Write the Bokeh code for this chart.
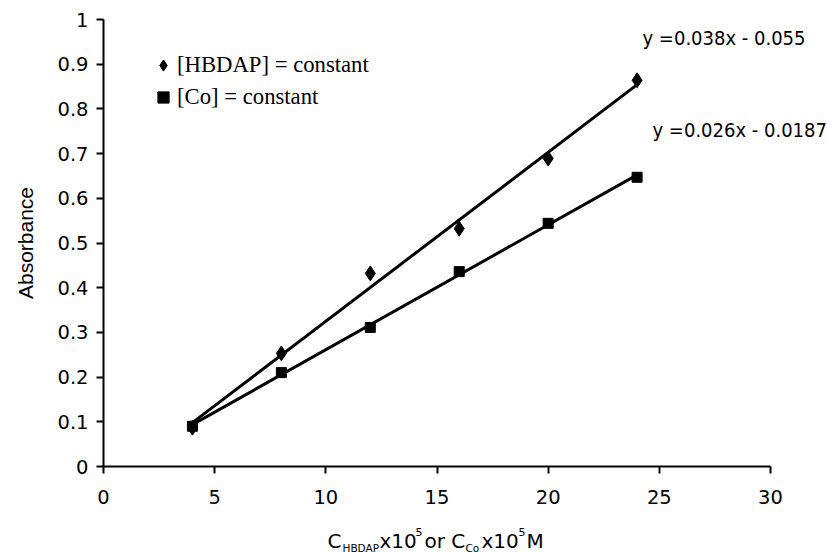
import numpy as np
from bokeh.plotting import figure
from bokeh.models import Range1d, FixedTicker, Legend, LegendItem, Label
from bokeh.embed import file_html
from bokeh.resources import INLINE

# ---- data ----
conc = [4, 8, 12, 16, 20, 24]
abs_hbdap = [0.087, 0.253, 0.432, 0.532, 0.689, 0.864]
abs_co = [0.090, 0.210, 0.311, 0.436, 0.544, 0.647]
series_names = ["[HBDAP] = constant", "[Co] = constant"]
eq_texts = ["y =0.038x - 0.055", "y =0.026x - 0.0187"]
x_ticks = [0, 5, 10, 15, 20, 25, 30]
x_tick_labels = ["0", "5", "10", "15", "20", "25", "30"]
y_ticks = [0, 0.1, 0.2, 0.3, 0.4, 0.5, 0.6, 0.7, 0.8, 0.9, 1]
y_tick_labels = ["0", "0.1", "0.2", "0.3", "0.4", "0.5", "0.6", "0.7", "0.8", "0.9", "1"]
y_label = "Absorbance"

# ---- layout: the frame spans the whole canvas, axes are pinned at the origin ----
W, H = 827, 552
AL, AR, AT, AB = 103, 770, 19, 466      # pixel positions of x=0, x=30, y=1, y=0
X0, X1, Y0, Y1 = 0, 30, 0, 1

def dx(px):
    return X0 + (px - AL) * (X1 - X0) / (AR - AL)

def dy(py):
    return Y0 + (AB - py) * (Y1 - Y0) / (AB - AT)

p = figure(width=W, height=H, x_range=Range1d(dx(0), dx(W)), y_range=Range1d(dy(H), dy(0)),
           output_backend="svg", toolbar_location=None,
           min_border_left=0, min_border_right=0, min_border_top=0, min_border_bottom=0)
p.outline_line_color = None
p.xgrid.visible = False
p.ygrid.visible = False
p.background_fill_color = "white"
p.border_fill_color = "white"

xa, ya = p.xaxis[0], p.yaxis[0]
xa.fixed_location = 0
ya.fixed_location = 0
xa.bounds = (X0, X1)
ya.bounds = (Y0, Y1)

for ax in (xa, ya):
    ax.axis_line_width = 2
    ax.axis_line_color = "black"
    ax.major_tick_line_width = 2
    ax.major_tick_line_color = "black"
    ax.major_tick_out = 7
    ax.major_tick_in = 0
    ax.minor_tick_out = 0
    ax.minor_tick_in = 0
    ax.major_label_text_font = "DejaVu Sans"
    ax.major_label_text_font_size = "19.5px"
    ax.major_label_text_color = "black"

xa.ticker = FixedTicker(ticks=x_ticks)
ya.ticker = FixedTicker(ticks=y_ticks)
xa.major_label_overrides = {t: l for t, l in zip(x_ticks, x_tick_labels)}
ya.major_label_overrides = {t: l for t, l in zip(y_ticks, y_tick_labels)}
xa.major_label_standoff = 16
ya.major_label_standoff = 8

ya.axis_label = y_label
ya.axis_label_text_font = "Liberation Sans"
ya.axis_label_text_font_size = "21px"
ya.axis_label_text_font_style = "normal"
ya.axis_label_text_color = "black"
ya.axis_label_standoff = 17

# ---- trend lines (least squares on the data) ----
for ys in (abs_hbdap, abs_co):
    m, b = np.polyfit(conc, ys, 1)
    xs = [conc[0], conc[-1]]
    p.line(xs, [m * x + b for x in xs], line_color="black", line_width=3)

r1 = p.scatter(conc, abs_hbdap, marker="diamond", size=15, color="black")
r2 = p.scatter(conc, abs_co, marker="square", size=10, color="black")

legend = Legend(items=[LegendItem(label=series_names[0], renderers=[r1]),
                       LegendItem(label=series_names[1], renderers=[r2])],
                location=(149, H - 111), orientation="vertical",
                border_line_color=None, background_fill_alpha=0,
                padding=0, margin=0, spacing=4,
                glyph_width=28, glyph_height=28, label_standoff=0,
                label_height=28,
                label_text_font="Liberation Serif", label_text_font_size="22.7px",
                label_text_color="black")
p.add_layout(legend)

# ---- regression equations ----
eq_pos = [(642, 37), (652, 129)]
for txt, (px, py) in zip(eq_texts, eq_pos):
    p.add_layout(Label(x=dx(px), y=dy(py), text=txt, text_font="DejaVu Sans Condensed",
                       text_font_size="20px", text_align="left",
                       text_baseline="alphabetic", text_color="black"))

# ---- x axis title with sub/superscripts ----
x_title_parts = [
    ("C", 327, 540, "20px"),
    ("HBDAP", 342, 547, "10.5px"),
    ("x10", 379, 540, "20px"),
    ("5", 415, 531, "11px"),
    ("or C", 424, 540, "20px"),
    ("Co", 465, 547, "10.5px"),
    ("x10", 481, 540, "20px"),
    ("5", 518, 531, "11px"),
    ("M", 526, 540, "20px"),
]
for txt, px, py, fs in x_title_parts:
    p.add_layout(Label(x=dx(px), y=dy(py), text=txt, text_font="DejaVu Sans",
                       text_font_size=fs, text_align="left",
                       text_baseline="alphabetic", text_color="black"))

open("out.html", "w").write(file_html(p, INLINE))
